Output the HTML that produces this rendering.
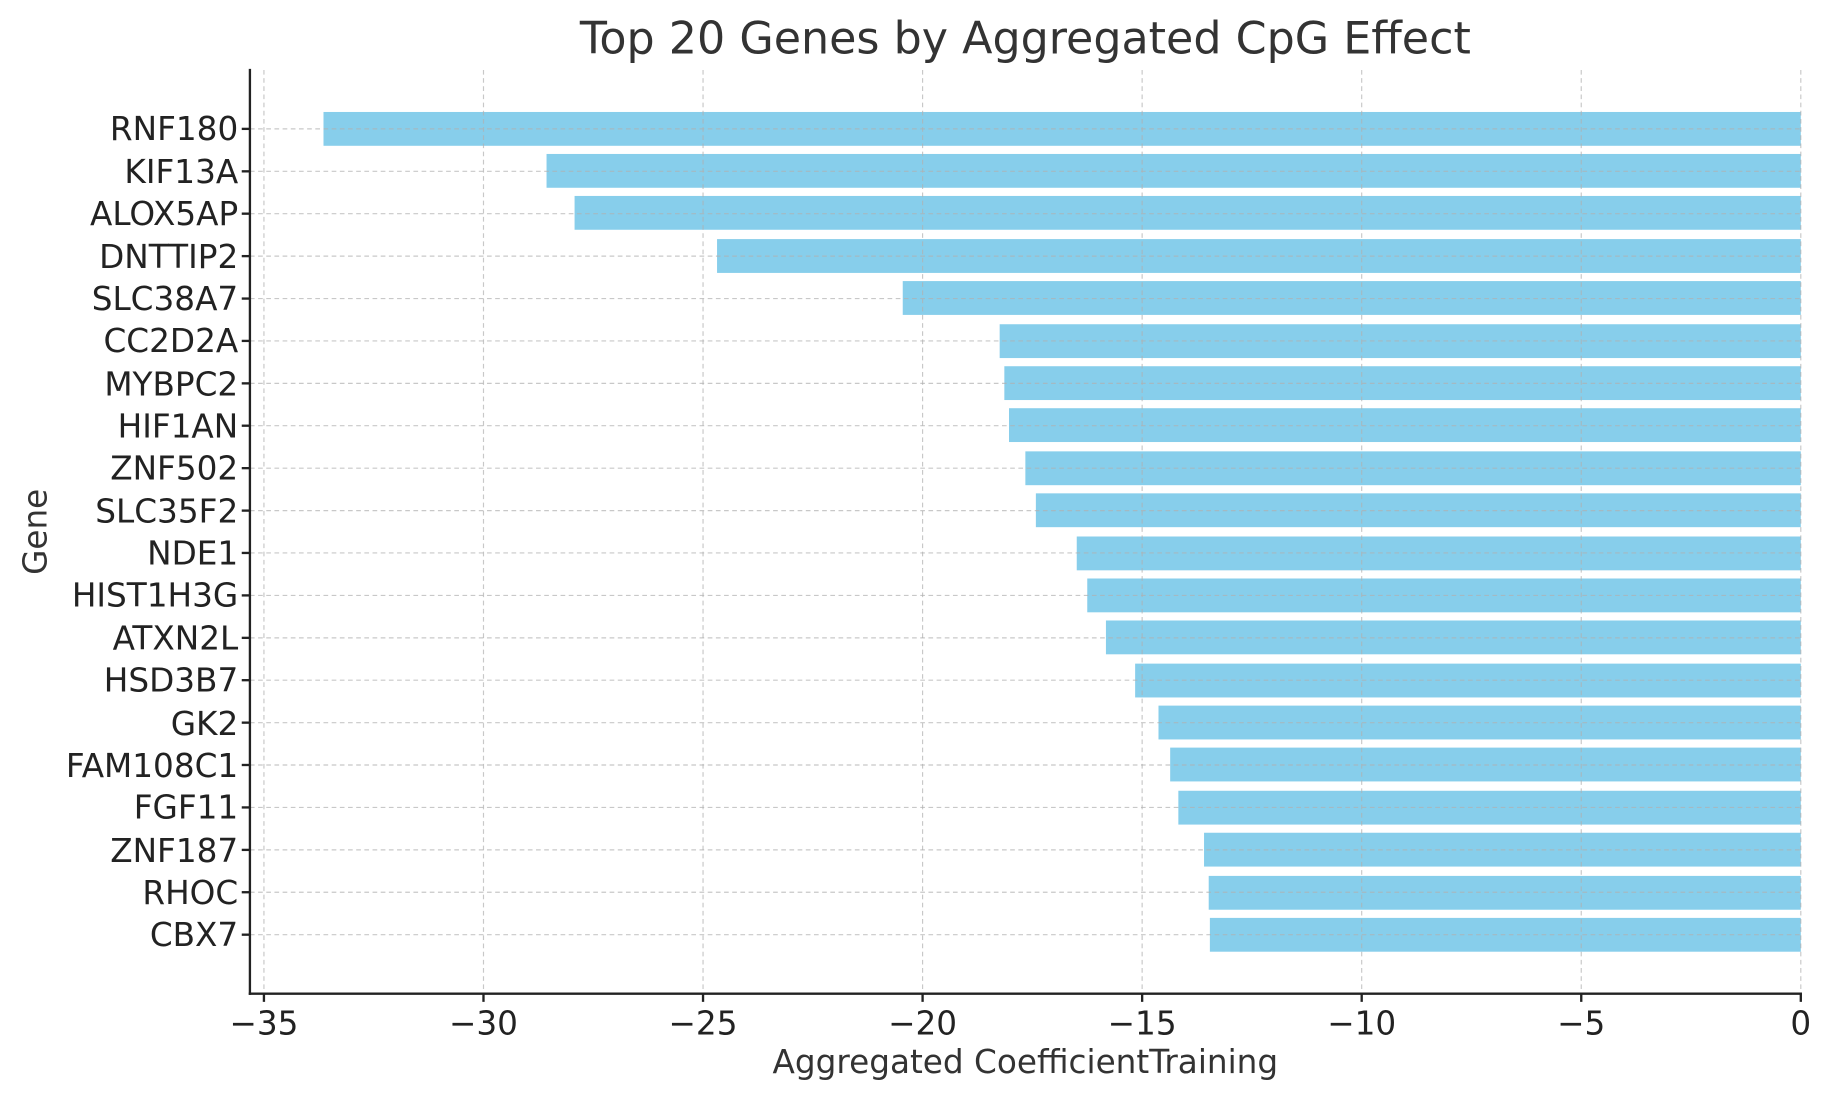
<!DOCTYPE html>
<html><head><meta charset="utf-8"><style>html,body{margin:0;padding:0;background:#fff}svg{display:block}</style></head>
<body>
<svg width="1830" height="1101" viewBox="0 0 1567 944" preserveAspectRatio="none" xmlns="http://www.w3.org/2000/svg" font-family="DejaVu Sans, Liberation Sans, sans-serif">
<rect width="1567" height="944" fill="#fff"/>
<g fill="#87ceeb">
<rect x="277" y="96" width="1265" height="29"/>
<rect x="468" y="132" width="1074" height="29"/>
<rect x="492" y="168" width="1050" height="29"/>
<rect x="614" y="205" width="928" height="29"/>
<rect x="773" y="241" width="769" height="29"/>
<rect x="856" y="278" width="686" height="29"/>
<rect x="860" y="314" width="682" height="29"/>
<rect x="864" y="350" width="678" height="29"/>
<rect x="878" y="387" width="664" height="29"/>
<rect x="887" y="423" width="655" height="29"/>
<rect x="922" y="460" width="620" height="29"/>
<rect x="931" y="496" width="611" height="29"/>
<rect x="947" y="532" width="595" height="29"/>
<rect x="972" y="569" width="570" height="29"/>
<rect x="992" y="605" width="550" height="29"/>
<rect x="1002" y="641" width="540" height="29"/>
<rect x="1009" y="678" width="533" height="29"/>
<rect x="1031" y="714" width="511" height="29"/>
<rect x="1035" y="751" width="507" height="29"/>
<rect x="1036" y="787" width="506" height="29"/>
</g>
<g stroke="#b0b0b0" stroke-opacity="0.7" stroke-width="1" stroke-dasharray="4,3">
<line x1="226" y1="60" x2="226" y2="852"/><line x1="414" y1="60" x2="414" y2="852"/>
<line x1="602" y1="60" x2="602" y2="852"/><line x1="790" y1="60" x2="790" y2="852"/>
<line x1="978" y1="60" x2="978" y2="852"/><line x1="1166" y1="60" x2="1166" y2="852"/>
<line x1="1354" y1="60" x2="1354" y2="852"/><line x1="1542" y1="60" x2="1542" y2="852"/>
<line x1="214" y1="110.5" x2="1542" y2="110.5"/><line x1="214" y1="146.9" x2="1542" y2="146.9"/>
<line x1="214" y1="183.2" x2="1542" y2="183.2"/><line x1="214" y1="219.6" x2="1542" y2="219.6"/>
<line x1="214" y1="256" x2="1542" y2="256"/><line x1="214" y1="292.3" x2="1542" y2="292.3"/>
<line x1="214" y1="328.7" x2="1542" y2="328.7"/><line x1="214" y1="365" x2="1542" y2="365"/>
<line x1="214" y1="401.4" x2="1542" y2="401.4"/><line x1="214" y1="437.8" x2="1542" y2="437.8"/>
<line x1="214" y1="474.1" x2="1542" y2="474.1"/><line x1="214" y1="510.5" x2="1542" y2="510.5"/>
<line x1="214" y1="546.9" x2="1542" y2="546.9"/><line x1="214" y1="583.2" x2="1542" y2="583.2"/>
<line x1="214" y1="619.6" x2="1542" y2="619.6"/><line x1="214" y1="655.9" x2="1542" y2="655.9"/>
<line x1="214" y1="692.3" x2="1542" y2="692.3"/><line x1="214" y1="728.7" x2="1542" y2="728.7"/>
<line x1="214" y1="765" x2="1542" y2="765"/><line x1="214" y1="801.4" x2="1542" y2="801.4"/>
</g>
<g stroke="#222" stroke-width="2">
<line x1="214" y1="59" x2="214" y2="853"/><line x1="213" y1="852" x2="1543" y2="852"/>
</g>
<g stroke="#222" stroke-width="2">
<line x1="226" y1="852" x2="226" y2="859"/><line x1="414" y1="852" x2="414" y2="859"/>
<line x1="602" y1="852" x2="602" y2="859"/><line x1="790" y1="852" x2="790" y2="859"/>
<line x1="978" y1="852" x2="978" y2="859"/><line x1="1166" y1="852" x2="1166" y2="859"/>
<line x1="1354" y1="852" x2="1354" y2="859"/><line x1="1542" y1="852" x2="1542" y2="859"/>
</g>
<g font-size="28" fill="#222" text-anchor="middle">
<text x="226" y="887">−35</text><text x="414" y="887">−30</text><text x="602" y="887">−25</text>
<text x="790" y="887">−20</text><text x="978" y="887">−15</text><text x="1166" y="887">−10</text>
<text x="1354" y="887">−5</text><text x="1542" y="887">0</text>
</g>
<g font-size="28" fill="#222" text-anchor="end">
<text x="204" y="120">RNF180</text><text x="204" y="157">KIF13A</text><text x="204" y="193">ALOX5AP</text>
<text x="204" y="230">DNTTIP2</text><text x="204" y="266">SLC38A7</text><text x="204" y="302">CC2D2A</text>
<text x="204" y="339">MYBPC2</text><text x="204" y="375">HIF1AN</text><text x="204" y="411">ZNF502</text>
<text x="204" y="448">SLC35F2</text><text x="204" y="484">NDE1</text><text x="204" y="520">HIST1H3G</text>
<text x="204" y="557">ATXN2L</text><text x="204" y="593">HSD3B7</text><text x="204" y="630">GK2</text>
<text x="204" y="666">FAM108C1</text><text x="204" y="702">FGF11</text><text x="204" y="739">ZNF187</text>
<text x="204" y="775">RHOC</text><text x="204" y="811">CBX7</text>
</g>
<g stroke="#222" stroke-width="2">
<line x1="207" y1="110.5" x2="214" y2="110.5"/><line x1="207" y1="146.9" x2="214" y2="146.9"/>
<line x1="207" y1="183.2" x2="214" y2="183.2"/><line x1="207" y1="219.6" x2="214" y2="219.6"/>
<line x1="207" y1="256" x2="214" y2="256"/><line x1="207" y1="292.3" x2="214" y2="292.3"/>
<line x1="207" y1="328.7" x2="214" y2="328.7"/><line x1="207" y1="365" x2="214" y2="365"/>
<line x1="207" y1="401.4" x2="214" y2="401.4"/><line x1="207" y1="437.8" x2="214" y2="437.8"/>
<line x1="207" y1="474.1" x2="214" y2="474.1"/><line x1="207" y1="510.5" x2="214" y2="510.5"/>
<line x1="207" y1="546.9" x2="214" y2="546.9"/><line x1="207" y1="583.2" x2="214" y2="583.2"/>
<line x1="207" y1="619.6" x2="214" y2="619.6"/><line x1="207" y1="655.9" x2="214" y2="655.9"/>
<line x1="207" y1="692.3" x2="214" y2="692.3"/><line x1="207" y1="728.7" x2="214" y2="728.7"/>
<line x1="207" y1="765" x2="214" y2="765"/><line x1="207" y1="801.4" x2="214" y2="801.4"/>
</g>
<text x="878" y="920" font-size="28" fill="#333" text-anchor="middle">Aggregated CoefficientTraining</text>
<text transform="translate(40,456) rotate(-90)" font-size="28" fill="#333" text-anchor="middle">Gene</text>
<text x="878" y="46" font-size="38" fill="#333" text-anchor="middle">Top 20 Genes by Aggregated CpG Effect</text>
</svg>
</body></html>
